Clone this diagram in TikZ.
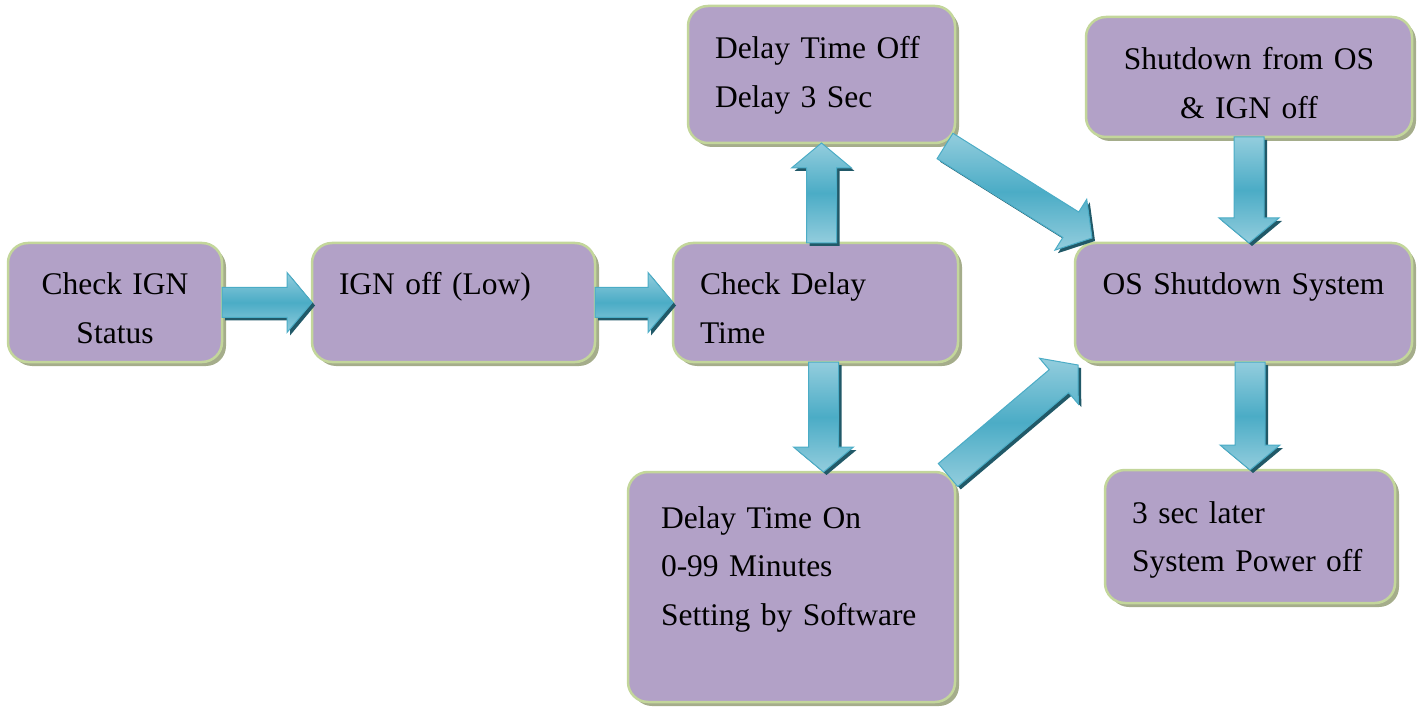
\documentclass[tikz,border=0pt]{standalone}
\usepackage{fontspec}
\setmainfont{Liberation Serif}
\usetikzlibrary{positioning,calc,shadows}

\definecolor{boxfill}{HTML}{B2A1C7}
\definecolor{boxline}{HTML}{C3D69B}
\definecolor{boxshade}{HTML}{A5AD8B}
\definecolor{arrlight}{HTML}{93CDDD}
\definecolor{arrmid}{HTML}{4BACC6}
\definecolor{arredge}{HTML}{4BACC6}
\definecolor{arrdark}{HTML}{215968}

% block arrow outline between (fa-s) and (fa-e)
\newcommand\flowshape[1]{%
  \path[#1] ($(fa-s)!15pt!90:(fa-e)$) -- ($(fa-h)!15pt!90:(fa-e)$)
    -- ($(fa-h)!30pt!90:(fa-e)$) -- (fa-e) -- ($(fa-h)!30pt!-90:(fa-e)$)
    -- ($(fa-h)!15pt!-90:(fa-e)$) -- ($(fa-s)!15pt!-90:(fa-e)$) -- cycle;}
\newcommand\flowarrow[2]{%
  \coordinate (fa-s) at (#1);
  \coordinate (fa-e) at (#2);
  \coordinate (fa-h) at ($(fa-e)!25pt!(fa-s)$);
  \flowshape{arrshadow}
  \flowshape{arrbody}}

\begin{document}
\begin{tikzpicture}[
    x=1pt,y=-1pt,
    box/.style={draw=boxline,line width=2.5pt,fill=boxfill,rounded corners=20pt,
      drop shadow={shadow xshift=4pt,shadow yshift=-4pt,fill=boxshade,opacity=1},
      anchor=north west,inner xsep=27pt,inner ysep=0pt,outer sep=0pt,align=left,
      font={\fontsize{31.5pt}{48.5pt}\selectfont}},
    arrshadow/.style={fill=arrdark,transform canvas={shift={(3pt,-3pt)}}},
    arrbody/.style={draw=arredge,line width=1pt,top color=arrlight,
      bottom color=arrlight,middle color=arrmid}
  ]
    \useasboundingbox (0,0) rectangle (1423,708);

    % main row
    \node[box,align=center,text width=160pt,text height=52pt,text depth=67pt] (chk) at (8,243) {Check IGN\\Status};
    \node[box,text width=229pt,text height=52pt,text depth=67pt,right=90pt of chk] (ign) {IGN off (Low)};
    \node[box,text width=231pt,text height=52pt,text depth=67pt,right=78pt of ign] (cdl) {Check Delay\\Time};
    \node[box,align=center,text width=283pt,text height=52pt,text depth=67pt,right=117pt of cdl] (os) {OS Shutdown System};

    % branches
    \node[box,text width=213pt,text height=53pt,text depth=84pt,above=100pt of cdl,xshift=6pt] (off) {Delay Time Off\\Delay 3 Sec};
    \node[box,inner xsep=33pt,text width=261pt,text height=56pt,text depth=174pt,below=110pt of cdl,xshift=-24pt] (dly) {Delay Time On\\0-99 Minutes\\Setting by Software};
    \node[box,align=center,text width=272pt,text height=53pt,text depth=67pt,above=106pt of os,xshift=5.5pt] (sd) {Shutdown from OS\\\& IGN off};
    \node[box,text width=236pt,text height=53pt,text depth=80pt,below=108pt of os,xshift=6.5pt] (pw) {3 sec later\\System Power off};

    \coordinate (cdl-down) at ([xshift=8pt]cdl.south);

    \flowarrow{chk.east}{ign.west}
    \flowarrow{ign.east}{cdl.west}
    \flowarrow{off.south |- cdl.north}{off.south}
    \flowarrow{cdl-down}{cdl-down |- dly.north}
    \flowarrow{[shift={(-10,3)}]off.south east}{[shift={(17,-5)}]os.north west}
    \flowarrow{[shift={(-7,3)}]dly.north east}{[shift={(3,3)}]os.south west}
    \flowarrow{sd.south}{sd.south |- os.north}
    \flowarrow{os.south -| pw.north}{pw.north}
  \end{tikzpicture}
\end{document}
